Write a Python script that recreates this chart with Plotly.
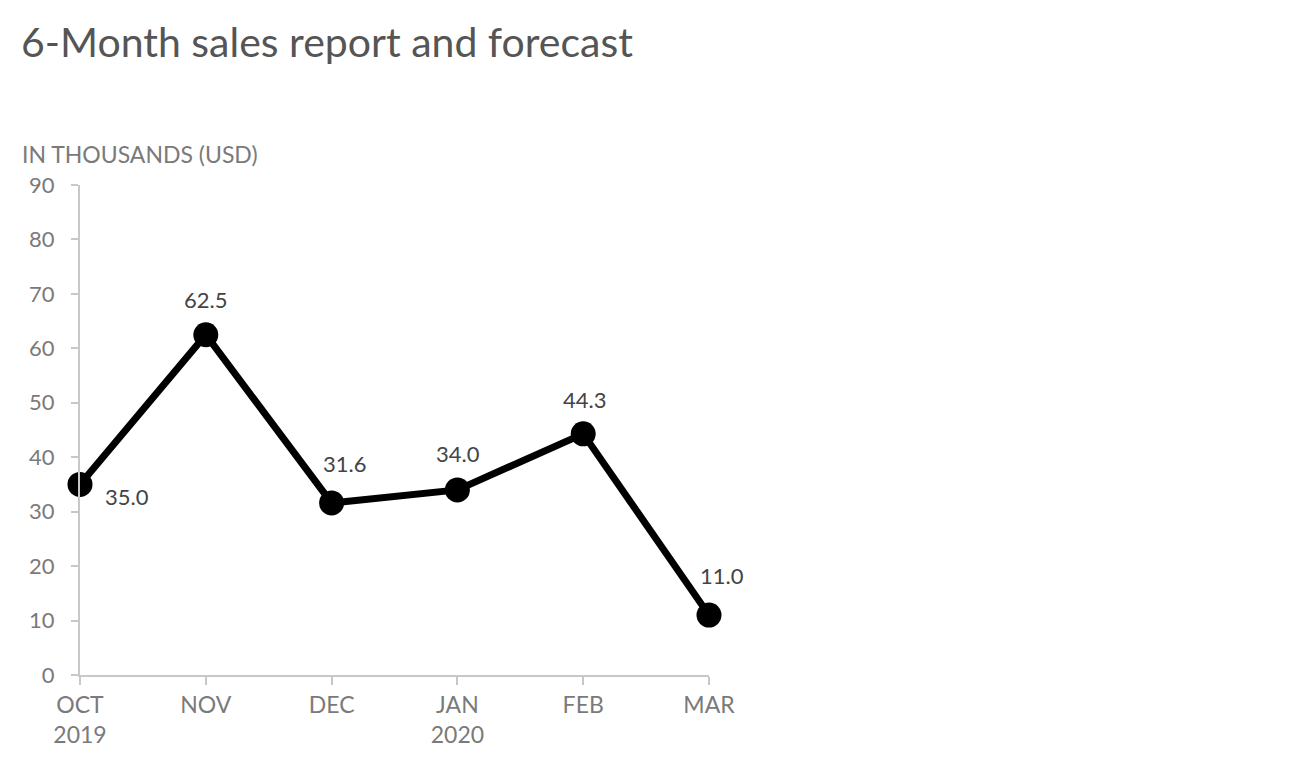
import plotly.graph_objects as go

months = ["OCT<br>2019", "NOV", "DEC", "JAN<br>2020", "FEB", "MAR"]
sales = [35.0, 62.5, 31.6, 34.0, 44.3, 11.0]
label_shift_x = [47, 0, 13, 1, 1, 13]
label_shift_y = [-12, 35, 39, 36, 34, 40]

FONT = "Lato, 'Open Sans', sans-serif"

fig = go.Figure()
fig.add_trace(go.Scatter(
    x=list(range(len(months))), y=sales, mode="lines+markers",
    line=dict(color="black", width=7),
    marker=dict(color="black", size=25),
    cliponaxis=False, hoverinfo="skip", showlegend=False,
))

for i, v in enumerate(sales):
    fig.add_annotation(
        x=i, y=v, text=f"{v:.1f}", showarrow=False,
        xshift=label_shift_x[i], yshift=label_shift_y[i],
        font=dict(family=FONT, size=22, color="#444444"),
    )

fig.add_annotation(
    xref="paper", yref="paper", x=-60 / 628, y=1 + 31 / 490,
    xanchor="left", yanchor="middle", showarrow=False,
    text="IN THOUSANDS (USD)",
    font=dict(family=FONT, size=23, color="#7a7a7a"),
)

fig.update_layout(
    width=1292, height=773,
    plot_bgcolor="white", paper_bgcolor="white",
    margin=dict(l=72, r=591, t=177, b=106),
    title=dict(
        text="6-Month sales report and forecast",
        xref="container", yref="container", x=13 / 1292, y=1 - 35 / 773,
        xanchor="left", yanchor="middle",
        font=dict(family=FONT, size=41, color="#555555"),
    ),
)
fig.update_xaxes(
    range=[0, 5], tickvals=list(range(len(months))), ticktext=months,
    showgrid=False, zeroline=False, showline=True, linecolor="#c8c8c8", linewidth=2,
    ticks="outside", ticklen=8, tickcolor="#c8c8c8", tickwidth=2,
    tickfont=dict(family=FONT, size=23, color="#7a7a7a"),
)
fig.update_yaxes(
    range=[0, 90], dtick=10,
    showgrid=False, zeroline=False, showline=True, linecolor="#c8c8c8", linewidth=2,
    ticks="outside", ticklen=7, tickcolor="#c8c8c8", tickwidth=2,
    ticklabelstandoff=12,
    tickfont=dict(family=FONT, size=22, color="#7a7a7a"),
)

fig.write_html("out.html")
